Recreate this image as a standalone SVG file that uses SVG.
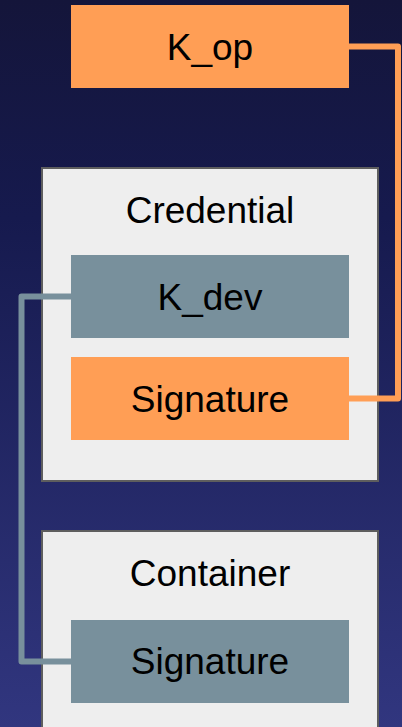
<svg xmlns="http://www.w3.org/2000/svg" width="402" height="727" viewBox="0 0 402 727">
<defs>
<linearGradient id="bg" x1="0" y1="0" x2="0" y2="1">
<stop offset="0" stop-color="#14153a"/>
<stop offset="0.3" stop-color="#161a4e"/>
<stop offset="1" stop-color="#31367f"/>
</linearGradient>
<style>
.t{font-family:"Liberation Sans",Arial,sans-serif;font-size:37px;fill:#000;text-anchor:middle}
.cont{fill:#eeeeee;stroke:#5e5e5e;stroke-width:2}
.org{fill:#ff9e55}
.gry{fill:#78909c}
.con{fill:none;stroke-width:6;stroke-linejoin:round}
</style>
</defs>
<rect x="0" y="0" width="402" height="727" fill="url(#bg)"/>
<g id="k_op">
<rect class="org" x="71" y="5" width="278" height="83"/>
<text class="t" x="210" y="59.5">K_op</text>
</g>
<g id="credential">
<rect class="cont" x="42" y="168" width="336" height="313"/>
<text class="t" x="210" y="223">Credential</text>
</g>
<g id="k_dev">
<rect class="gry" x="71" y="255" width="278" height="83"/>
<text class="t" x="210" y="309.5">K_dev</text>
</g>
<g id="cred_signature">
<rect class="org" x="71" y="357" width="278" height="83"/>
<text class="t" x="210" y="411.5">Signature</text>
</g>
<g id="container">
<rect class="cont" x="42" y="531" width="336" height="200"/>
<text class="t" x="210" y="586">Container</text>
</g>
<g id="cont_signature">
<rect class="gry" x="71" y="620" width="278" height="83"/>
<text class="t" x="210" y="674">Signature</text>
</g>
<g id="connectors">
<path class="con" stroke="#ff9e55" d="M349,46.5 H398 V398.5 H349"/>
<path class="con" stroke="#78909c" d="M71,296.5 H21.5 V661.5 H71"/>
</g>
</svg>
